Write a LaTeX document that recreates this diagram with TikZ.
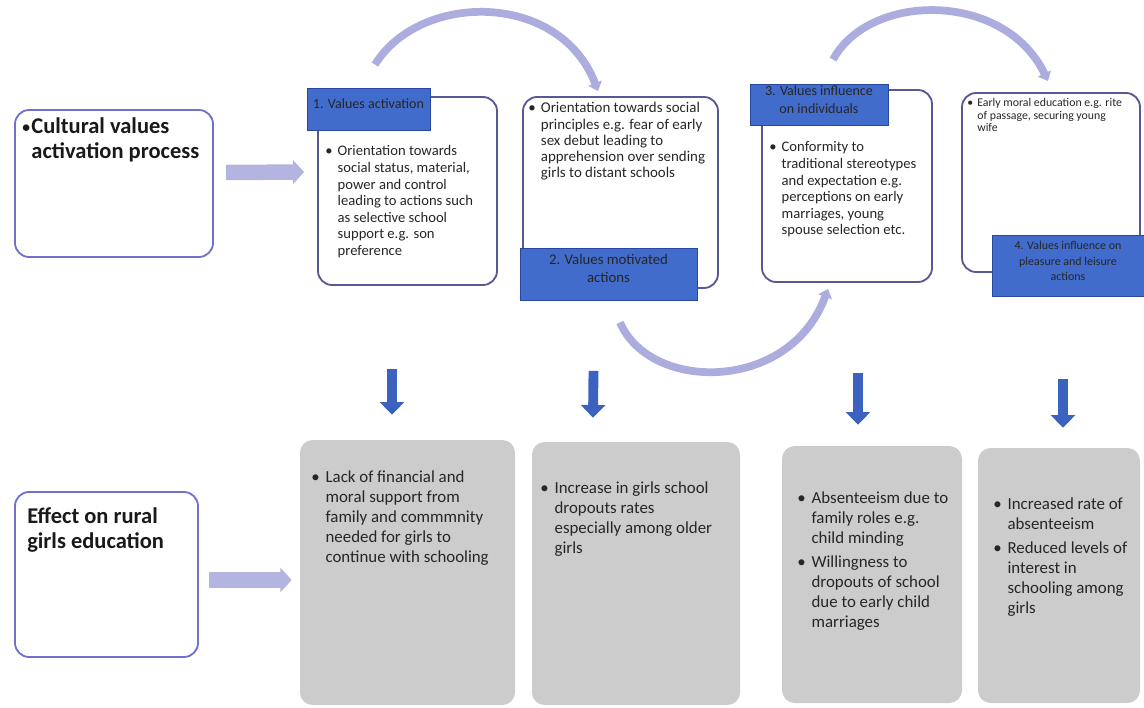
\documentclass[tikz,border=0pt]{standalone}
\usepackage{fontspec}
\setmainfont{Carlito}
\usetikzlibrary{arrows.meta,calc,fit}

\definecolor{hdrblue}{RGB}{66,108,204}
\definecolor{hdredge}{RGB}{40,72,160}
\definecolor{lav}{RGB}{172,172,222}
\definecolor{boxedge}{RGB}{88,88,150}
\definecolor{leftedge}{RGB}{112,112,205}
\definecolor{darrow}{RGB}{58,98,190}
\definecolor{effgray}{RGB}{204,204,204}

\newcommand{\bpt}[1]{\begin{tabular}[t]{@{}l@{\hspace{0.35em}}l@{}}\textbullet&\begin{tabular}[t]{@{}l@{}}#1\end{tabular}\end{tabular}}
\newcommand{\tbul}{\raisebox{0.5pt}{\fontsize{11}{11}\selectfont\textbullet}\hspace{1pt}}

\tikzset{
  stagebox/.style={draw=boxedge, line width=1.3pt, rounded corners=10pt, inner sep=0pt},
  sidebox/.style={draw=leftedge, line width=1.3pt, rounded corners=10pt, inner sep=0pt},
  effbox/.style={fill=effgray, rounded corners=9pt, inner sep=0pt},
  header/.style={fill=hdrblue, draw=hdredge, line width=0.6pt, text=black!85, align=center, inner sep=0pt},
  bodytext/.style={align=left, inner sep=0pt, text=black!85, font=\fontsize{10.4}{11.8}\selectfont},
  efftext/.style={align=left, inner sep=0pt, text=black!85, font=\fontsize{12}{14.2}\selectfont},
  titletext/.style={align=left, inner sep=0pt, text=black!90, font=\bfseries\fontsize{16}{18}\selectfont},
  curvearr/.style={draw=lav, line width=5.5pt, -{Triangle[width=10pt,length=6pt]}},
  fatarr/.style={draw=lav!90, line width=11pt, -{Triangle[width=17pt,length=8pt]}},
  downarr/.style={draw=darrow, line width=7pt, -{Triangle[width=17pt,length=9pt]}},
}

\begin{document}
\begin{tikzpicture}[x=0.025cm, y=-0.025cm]
  %%%%% START %%%%%
  \useasboundingbox (0,0) rectangle (1144,708);

  % left side boxes
  \node[sidebox, fit={(15,110) (213,257)}] (cult) {};
  \node[titletext, anchor=north west] (cultx) at (22,117) {\tbul Cultural values\\\phantom{\tbul}activation process};
  \node[sidebox, fit={(15,492) (198,657)}] (eff) {};
  \node[titletext, anchor=north west] (effx) at (27,507) {Effect on rural\\girls education};

  % stage boxes
  \node[stagebox, fit={(318,97) (497,285)}] (b1) {};
  \node[stagebox, fit={(523,97) (718,288)}] (b2) {};
  \node[stagebox, fit={(762,90) (932,282)}] (b3) {};
  \node[stagebox, fit={(962,93) (1140,272)}] (b4) {};

  \node[bodytext, anchor=north west] (t1) at (325,144) {\bpt{Orientation towards\\social status, material,\\power and control\\leading to actions such\\as selective school\\support e.g. son\\preference}};
  \node[bodytext, anchor=north west, font=\fontsize{10.6}{11.6}\selectfont] (t2) at (528,101) {\bpt{Orientation towards social\\principles e.g. fear of early\\sex debut leading to\\apprehension over sending\\girls to distant schools}};
  \node[bodytext, anchor=north west] (t3) at (769,140) {\bpt{Conformity to\\traditional stereotypes\\and expectation e.g.\\perceptions on early\\marriages, young\\spouse selection etc.}};
  \node[bodytext, anchor=north west, font=\fontsize{8.4}{8.8}\selectfont] (t4) at (967,98) {\bpt{Early moral education e.g. rite\\of passage, securing young\\wife}};

  % headers
  \node[header, fit={(307,88) (430,130)}, font=\fontsize{10}{12}\selectfont] (h1) {1. Values activation};
  \node[header, fit={(520,248) (697,300)}, font=\fontsize{10.5}{12.8}\selectfont] (h2) {2. Values motivated\\actions};
  \node[header, fit={(750,84) (888,125)}, font=\fontsize{10}{13}\selectfont] (h3) {3. Values influence\\on individuals};
  \node[header, fit={(992,235) (1144,296)}, font=\fontsize{8.5}{11}\selectfont] (h4) {4. Values influence on\\pleasure and leisure\\actions};

  % effect boxes
  \node[effbox, fit={(300,440) (515,705)}] (g1) {};
  \node[effbox, fit={(532,442) (740,705)}] (g2) {};
  \node[effbox, fit={(782,446) (962,703)}] (g3) {};
  \node[effbox, fit={(978,448) (1140,703)}] (g4) {};

  \node[efftext, anchor=north west] (e1) at (311,468) {\bpt{Lack of financial and\\moral support from\\family and commmnity\\needed for girls to\\continue with schooling}};
  \node[efftext, anchor=north west] (e2) at (540,479) {\bpt{Increase in girls school\\dropouts rates\\especially among older\\girls}};
  \node[efftext, anchor=north west] (e3) at (797,489) {\bpt{Absenteeism due to\\family roles e.g.\\child minding}\\[2pt]\bpt{Willingness to\\dropouts of school\\due to early child\\marriages}};
  \node[efftext, anchor=north west] (e4) at (993,495) {\bpt{Increased rate of\\absenteeism}\\[2pt]\bpt{Reduced levels of\\interest in\\schooling among\\girls}};

  % fat arrows
  \draw[fatarr] ($(cult.east)+(12,-11)$) -- ($(b1.west)+(-13,-19)$);
  \draw[fatarr] ($(eff.east)+(10,5.5)$) -- ($(g1.west)+(-8,7.5)$);

  % curved arrows
  \draw[curvearr] ($(h1.north)+(6.5,-23)$) .. controls +(45,-73) and +(-38,-100) .. ($(b2.north)+(-22.5,-5)$);
  \draw[curvearr] ($(h2.south)+(11.5,22)$) .. controls +(30,70) and +(-38,104) .. ($(b3.south)+(-19,6)$);
  \draw[curvearr] ($(h3.north)+(14,-24)$) .. controls +(37,-68) and +(-43,-90) .. ($(b4.north)+(-3,-11)$);

  % down arrows
  \draw[downarr] ($(b1.south)+(-15.5,83)$) -- ($(g1.north)+(-15.5,-25)$);
  \draw[downarr] ($(b2.south)+(-27,82)$) -- ($(g2.north)+(-43,-24)$);
  \draw[downarr] ($(b3.south)+(11,90)$) -- ($(g3.north)+(-14,-21)$);
  \draw[downarr] ($(b4.south)+(12,106)$) -- ($(g4.north)+(4,-20)$);
  %%%%% END %%%%%
\end{tikzpicture}
\end{document}
